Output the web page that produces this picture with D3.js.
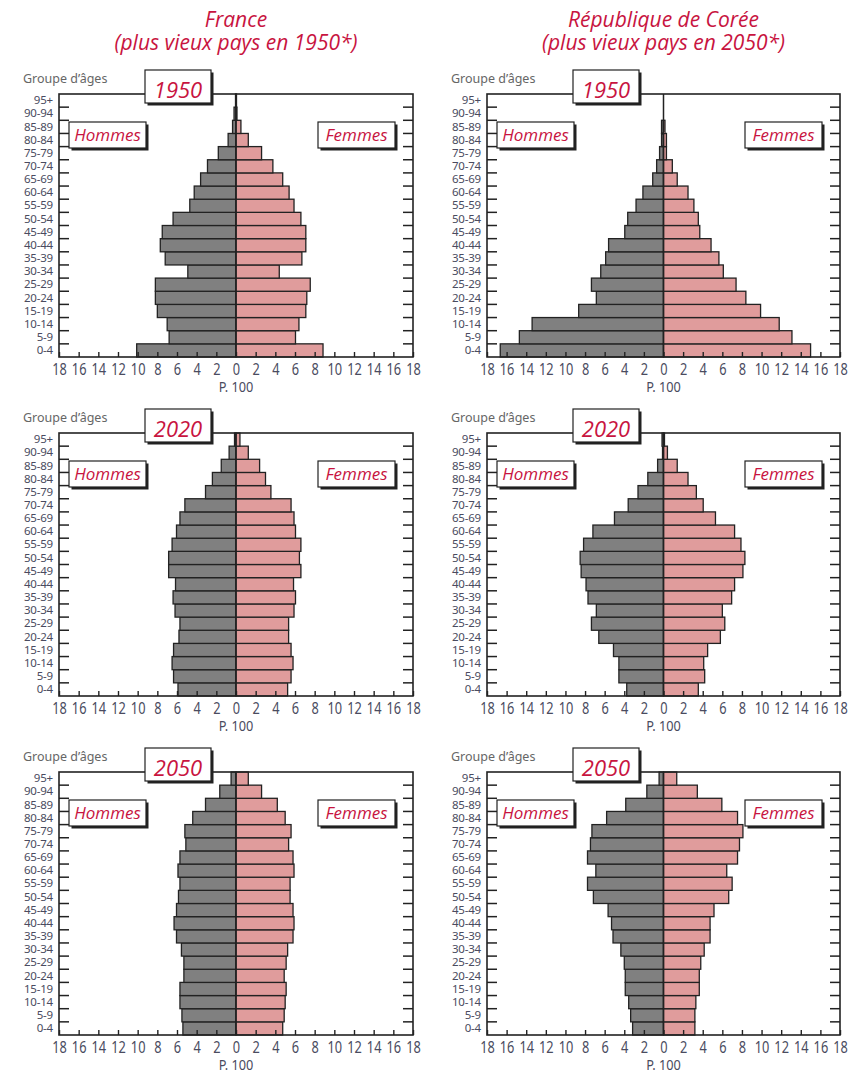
<!DOCTYPE html>
<html><head><meta charset="utf-8">
<script src="https://cdn.jsdelivr.net/npm/d3@7"></script>
<style>
html,body{margin:0;padding:0;background:#fff;}
svg{display:block;}
</style></head>
<body>
<svg id="chart" width="853" height="1074"></svg>
<script>
// ---------- DATA ----------
const ageGroups = ["0-4","5-9","10-14","15-19","20-24","25-29","30-34","35-39","40-44","45-49","50-54","55-59","60-64","65-69","70-74","75-79","80-84","85-89","90-94","95+"];
const xTickValues = [-18,-16,-14,-12,-10,-8,-6,-4,-2,0,2,4,6,8,10,12,14,16,18];
const countryTitles = ["France", "République de Corée"];
const countrySubtitles = ["(plus vieux pays en 1950*)", "(plus vieux pays en 2050*)"];
const years = ["1950", "2020", "2050"];

const franceMen1950   = [10.1, 6.8, 7.0, 8.0, 8.2, 8.2, 4.9, 7.2, 7.7, 7.5, 6.4, 4.7, 4.25, 3.6, 2.9, 1.8, 0.8, 0.35, 0.2, 0.05];
const franceWomen1950 = [8.85, 6.05, 6.4, 7.1, 7.2, 7.55, 4.4, 6.7, 7.1, 7.1, 6.6, 5.9, 5.4, 4.75, 3.75, 2.6, 1.25, 0.5, 0.1, 0.05];
const koreaMen1950    = [16.65, 14.7, 13.4, 8.65, 6.85, 7.35, 6.4, 5.9, 5.6, 3.95, 3.65, 2.8, 2.1, 1.1, 0.7, 0.4, 0.2, 0.2, 0, 0];
const koreaWomen1950  = [15.0, 13.1, 11.8, 9.9, 8.4, 7.4, 6.1, 5.65, 4.85, 3.7, 3.55, 3.1, 2.5, 1.4, 0.9, 0.3, 0.3, 0.15, 0, 0];

const franceMen2020   = [5.9, 6.35, 6.5, 6.35, 5.8, 5.7, 6.2, 6.4, 6.15, 6.85, 6.85, 6.5, 6.05, 5.7, 5.2, 3.1, 2.4, 1.5, 0.7, 0.15];
const franceWomen2020 = [5.25, 5.6, 5.8, 5.6, 5.35, 5.35, 5.9, 6.05, 5.85, 6.6, 6.45, 6.6, 6.05, 5.9, 5.6, 3.55, 3.0, 2.4, 1.25, 0.4];
const koreaMen2020    = [3.75, 4.55, 4.55, 5.1, 6.6, 7.35, 6.85, 7.7, 7.9, 8.4, 8.5, 8.15, 7.2, 5.0, 3.6, 2.6, 1.6, 0.6, 0.1, 0.15];
const koreaWomen2020  = [3.55, 4.2, 4.1, 4.5, 5.8, 6.25, 6.0, 6.95, 7.25, 8.1, 8.3, 7.9, 7.25, 5.3, 4.05, 3.35, 2.5, 1.4, 0.4, 0.1];

const franceMen2050   = [5.4, 5.5, 5.7, 5.7, 5.3, 5.3, 5.55, 6.05, 6.3, 6.05, 5.85, 5.7, 5.9, 5.7, 5.1, 5.2, 4.4, 3.1, 1.65, 0.5];
const franceWomen2050 = [4.75, 4.9, 5.0, 5.1, 4.9, 5.1, 5.25, 5.8, 5.9, 5.8, 5.5, 5.5, 5.9, 5.8, 5.35, 5.6, 5.0, 4.2, 2.6, 1.25];
const koreaMen2050    = [3.15, 3.35, 3.55, 3.9, 3.9, 4.0, 4.35, 5.15, 5.3, 5.65, 7.15, 7.75, 6.9, 7.75, 7.45, 7.3, 5.8, 3.85, 1.7, 0.45];
const koreaWomen2050  = [3.2, 3.2, 3.3, 3.65, 3.65, 3.8, 4.15, 4.75, 4.75, 5.15, 6.65, 7.0, 6.45, 7.55, 7.75, 8.1, 7.55, 5.95, 3.45, 1.35];

const menLabel = "Hommes", womenLabel = "Femmes";
const yAxisTitle = "Groupe d’âges";
const xAxisTitle = "P. 100";

// ---------- LAYOUT ----------
const cols = [{x0: 59, x1: 413}, {x0: 487, x1: 840}];
const rowTops = [94, 433, 772];
const plotH = 263;
const RED = "#c8143f";
const LABEL = "#4a4b60";
const LINE = "#222";
const MALE = "#808080", FEMALE = "#e09c9c";
const FONT = "'Noto Sans', 'Open Sans', sans-serif";
const IFONT = "'Open Sans', 'Noto Sans', sans-serif";

const panels = [
  {c: 0, r: 0, men: franceMen1950, women: franceWomen1950},
  {c: 1, r: 0, men: koreaMen1950,  women: koreaWomen1950},
  {c: 0, r: 1, men: franceMen2020, women: franceWomen2020},
  {c: 1, r: 1, men: koreaMen2020,  women: koreaWomen2020},
  {c: 0, r: 2, men: franceMen2050, women: franceWomen2050},
  {c: 1, r: 2, men: koreaMen2050,  women: koreaWomen2050}
];

const svg = d3.select("#chart");

// Titles
cols.forEach((col, i) => {
  const cx = (col.x0 + col.x1) / 2;
  svg.append("text").attr("x", cx).attr("y", 27).attr("text-anchor", "middle")
    .attr("font-family", IFONT).attr("font-style", "italic").attr("font-size", 21)
    .attr("fill", RED).text(countryTitles[i]);
  svg.append("text").attr("x", cx).attr("y", 50).attr("text-anchor", "middle")
    .attr("font-family", IFONT).attr("font-style", "italic").attr("font-size", 21)
    .attr("fill", RED).text(countrySubtitles[i]);
});

function labelBox(g, x, y, w, h, text, fs, baselineOff) {
  g.append("rect").attr("x", x + 2.5).attr("y", y + 2.5).attr("width", w).attr("height", h).attr("fill", "#222");
  g.append("rect").attr("x", x).attr("y", y).attr("width", w).attr("height", h)
    .attr("fill", "#fff").attr("stroke", LINE).attr("stroke-width", 1.2);
  g.append("text").attr("x", x + w / 2).attr("y", y + baselineOff).attr("text-anchor", "middle")
    .attr("font-family", IFONT).attr("font-style", "italic").attr("font-size", fs)
    .attr("fill", RED).text(text);
}

panels.forEach(p => {
  const col = cols[p.c];
  const top = rowTops[p.r];
  const bottom = top + plotH;
  const g = svg.append("g");

  const x = d3.scaleLinear().domain([-18, 18]).range([col.x0, col.x1]);
  const y = d3.scaleBand().domain(ageGroups.slice().reverse()).range([top, bottom]).padding(0);

  g.append("rect").attr("x", col.x0).attr("y", top).attr("width", col.x1 - col.x0).attr("height", plotH)
    .attr("fill", "#fff");

  const rows = ageGroups.map((a, i) => ({age: a, m: p.men[i], f: p.women[i]}));
  g.selectAll(".m").data(rows.filter(d => d.m > 0)).join("rect")
    .attr("x", d => x(-d.m)).attr("width", d => x(0) - x(-d.m))
    .attr("y", d => y(d.age)).attr("height", y.bandwidth())
    .attr("fill", MALE).attr("stroke", LINE).attr("stroke-width", 1.3);
  g.selectAll(".f").data(rows.filter(d => d.f > 0)).join("rect")
    .attr("x", x(0)).attr("width", d => x(d.f) - x(0))
    .attr("y", d => y(d.age)).attr("height", y.bandwidth())
    .attr("fill", FEMALE).attr("stroke", LINE).attr("stroke-width", 1.3);

  g.append("line").attr("x1", x(0)).attr("x2", x(0)).attr("y1", top).attr("y2", bottom)
    .attr("stroke", LINE).attr("stroke-width", 1.5);

  const bounds = ageGroups.slice(0, -1).map(a => y(a));
  g.selectAll(".tl").data(bounds).join("line")
    .attr("x1", col.x0).attr("x2", col.x0 + 10).attr("y1", d => d).attr("y2", d => d)
    .attr("stroke", LINE).attr("stroke-width", 1.5);
  g.selectAll(".tr").data(bounds).join("line")
    .attr("x1", col.x1 - 10).attr("x2", col.x1).attr("y1", d => d).attr("y2", d => d)
    .attr("stroke", LINE).attr("stroke-width", 1.5);

  g.append("rect").attr("x", col.x0).attr("y", top).attr("width", col.x1 - col.x0).attr("height", plotH)
    .attr("fill", "none").attr("stroke", LINE).attr("stroke-width", 1.6);

  const xa = g.append("g").attr("transform", `translate(0,${bottom})`)
    .call(d3.axisBottom(x).tickValues(xTickValues).tickFormat(d => Math.abs(d)).tickSizeInner(-5).tickSizeOuter(0).tickPadding(6.5));
  xa.select(".domain").remove();
  xa.selectAll(".tick line").attr("stroke", LINE).attr("stroke-width", 1.4);
  xa.selectAll(".tick text").attr("font-family", FONT).attr("font-size", 16).attr("fill", LABEL)
    .attr("transform", "scale(0.8,1)");

  const ya = g.append("g").attr("transform", `translate(${col.x0},0)`)
    .call(d3.axisLeft(y).tickSize(0).tickPadding(6));
  ya.select(".domain").remove();
  ya.selectAll(".tick text").attr("font-family", FONT).attr("font-size", 11.5).attr("fill", LABEL)
    .attr("letter-spacing", -0.2);

  g.append("text").attr("x", col.x0 - 36).attr("y", top - 11)
    .attr("font-family", FONT).attr("font-size", 12.5).attr("fill", "#666").text(yAxisTitle);
  g.append("text").attr("x", x(0)).attr("y", bottom + 35).attr("text-anchor", "middle")
    .attr("font-family", FONT).attr("font-size", 15).attr("fill", LABEL)
    .attr("transform", `translate(${x(0)},0) scale(0.85,1) translate(${-x(0)},0)`)
    .text(xAxisTitle);

  labelBox(g, col.x0 + 86, top - 24, 66, 33, years[p.r], 22, 28);
  labelBox(g, col.x0 + 10, top + 28, 77, 26, menLabel, 17, 19);
  labelBox(g, col.x1 - 95, top + 28, 77, 26, womenLabel, 17, 19);
});
</script>
</body></html>
